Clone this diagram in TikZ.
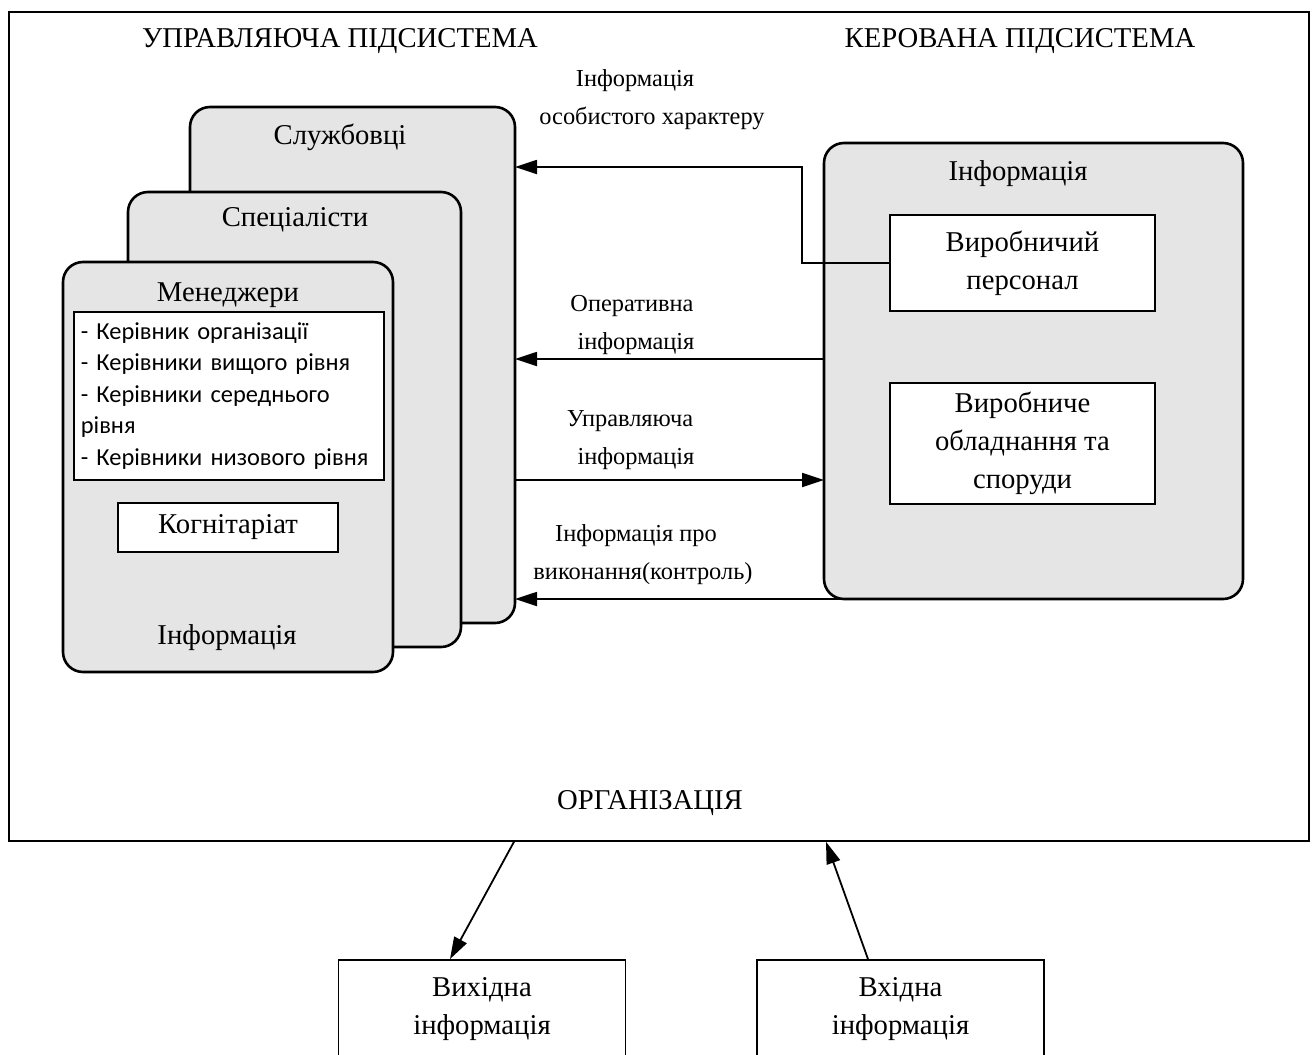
\documentclass[tikz,border=0pt]{standalone}
\usepackage{fontspec}
\setmainfont{Liberation Serif}
\newfontfamily\listfont{Carlito}
\usetikzlibrary{arrows.meta}

\begin{document}
\begin{tikzpicture}[x=1pt,y=-1pt,
  frame/.style={draw, line width=1.8pt, inner sep=0pt},
  stackbox/.style={draw, line width=2.6pt, rounded corners=20pt, fill=black!10, inner sep=0pt, outer sep=0pt, anchor=north west},
  plainbox/.style={draw, line width=1.8pt, fill=white, inner sep=0pt, align=center, font=\fontsize{28.7}{38}\selectfont},
  title/.style={align=center, inner sep=0pt, font=\fontsize{28.7}{38}\selectfont},
  lbl/.style={align=center, inner sep=0pt, font=\fontsize{24.4}{38}\selectfont},
  arr/.style={line width=1.8pt, -{Triangle[length=22pt,width=14pt]}},
  link/.style={line width=1.8pt}
]
\useasboundingbox (0,0) rectangle (1315,1055);

% organisation frame
\node[frame, anchor=north west, minimum width=1300, minimum height=829] (org) at (8,11) {};
\node[title] (hctl) at (340,41) {УПРАВЛЯЮЧА ПІДСИСТЕМА};
\node[title] (hman) at (1020,41) {КЕРОВАНА ПІДСИСТЕМА};
\node[title] (horg) at (650,803) {ОРГАНІЗАЦІЯ};

% managing subsystem: stacked staff groups
\node[stackbox, minimum width=325, minimum height=516] (sl) at (190,107) {};
\node[title] (tsl) at (340,137) {Службовці};
\node[stackbox, minimum width=333, minimum height=455] (sp) at (128,192) {};
\node[title] (tsp) at (295,220) {Спеціалісти};
\node[stackbox, minimum width=330, minimum height=410] (mn) at (63,262) {};
\node[title] (tmn) at (228,295) {Менеджери};

\node[plainbox, anchor=north west, minimum width=310, minimum height=168,
      text width=296, align=left, inner xsep=7pt,
      font=\listfont\fontsize{24.4}{31.5}\selectfont] (lst) at (73,311)
  {- Керівник організації\\- Керівники вищого рівня\\- Керівники середнього\\рівня\\- Керівники низового рівня};
\node[plainbox, minimum width=220, minimum height=49] (kog) at (228,527.5) {Когнітаріат};
\node[title] (tinf) at (227,638) {Інформація};

% managed subsystem
\node[stackbox, minimum width=419, minimum height=456] (kr) at (824,143) {};
\node[title] (tkr) at (1018,174) {Інформація};
\node[plainbox, minimum width=265, minimum height=96] (vp) at (1022.5,263) {Виробничий\\персонал};
\node[plainbox, minimum width=265, minimum height=121] (vo) at (1022.5,443.5) {Виробниче\\обладнання та\\споруди};

% information flows between the subsystems
\coordinate (k1) at (802,167);
\draw[arr] (vp.west) -| (k1) -- (k1 -| sl.east);
\node[lbl] (l1) at (652,100) {\kern-34pt Інформація\\особистого характеру};

\draw[arr] (kr.west |- 0,359) -- (sl.east |- 0,359);
\node[lbl] (l2) at (632,325) {Оперативна\\\kern8pt інформація};

\draw[arr] (sl.east |- 0,480) -- (kr.west |- 0,480);
\node[lbl] (l3) at (630,440) {Управляюча\\\kern12pt інформація};

\draw[arr] ([xshift=18pt]kr.south west) -- (kr.south west -| sl.east);
\node[lbl] (l4) at (643,555) {\kern-14pt Інформація про\\виконання(контроль)};

% external information
\node[plainbox, minimum width=287, minimum height=98] (vyh) at (482,1009) {Вихідна\\інформація};
\node[plainbox, minimum width=287, minimum height=98] (vh) at (900.5,1009) {Вхідна\\інформація};

\draw[arr] (org.south -| 514,0) -- (vyh.north -| 450,0);
\draw[arr] (vh.north -| 868,0) -- (org.south -| 826,0);
\end{tikzpicture}
\end{document}
